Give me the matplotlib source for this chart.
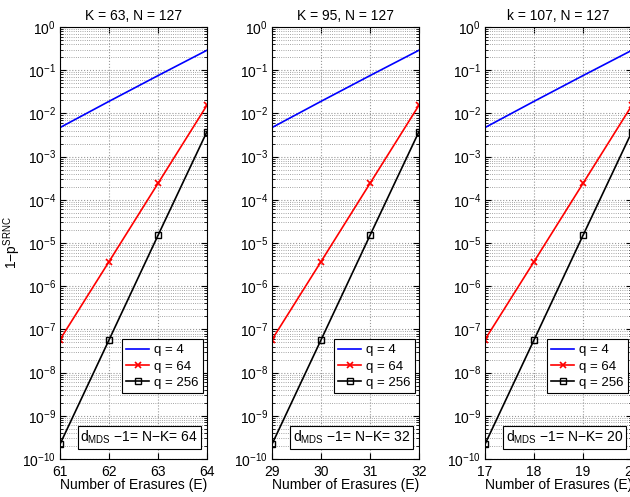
import numpy as np
import matplotlib
matplotlib.use("Agg")
import matplotlib.pyplot as plt
from matplotlib.ticker import LogLocator, NullFormatter

plt.rcParams['font.family'] = ['Liberation Sans', 'DejaVu Sans']
plt.rcParams['mathtext.fontset'] = 'custom'
plt.rcParams['mathtext.rm'] = 'Liberation Sans'
plt.rcParams['mathtext.it'] = 'Liberation Sans'

# erasures offsets relative to N-K-3
offsets = [0, 1, 2, 3]
Ks = [63, 95, 107]
N = 127
titles = ["K = 63, N = 127", "K = 95, N = 127", "k = 107, N = 127"]
q4 = [4.7e-3, 1.9e-2, 7.5e-2, 2.9e-1]
q64 = [5.8e-8, 3.7e-6, 2.4e-4, 1.55e-2]
q256 = [2.2e-10, 5.7e-8, 1.5e-5, 3.8e-3]

fig = plt.figure(figsize=(6.3, 4.97), dpi=100)
W, H = 630, 497
lefts = [60, 272, 485]
aw = 147
top, bottom = 27, 459
fs = 10

for i, K in enumerate(Ks):
    ax = fig.add_axes([lefts[i] / W, 1 - bottom / H, aw / W, (bottom - top) / H])
    d = N - K
    E = [d - 3 + o for o in offsets]
    ax.semilogy(E, q4, color='blue', lw=1.2, label='q = 4')
    ax.semilogy(E, q64, color='red', lw=1.2, marker='x', ms=5, mew=1.2, label='q = 64')
    ax.semilogy(E, q256, color='black', lw=1.2, marker='s', ms=5, mfc='none', mew=1, label='q = 256')
    ax.set_xlim(E[0], E[-1])
    ax.set_ylim(1e-10, 1)
    ax.set_xticks(E)
    ax.yaxis.set_major_locator(LogLocator(base=10, numticks=20))
    ax.yaxis.set_minor_locator(LogLocator(base=10, subs=np.arange(2, 10), numticks=20))
    ax.yaxis.set_minor_formatter(NullFormatter())
    ax.grid(True, which='major', ls=':', color='#999999', lw=0.8)
    ax.grid(True, which='minor', axis='y', ls=':', color='#888888', lw=0.6)
    ax.tick_params(direction='in', top=True, right=True, labelsize=fs, length=4, pad=3)
    ax.tick_params(axis='x', pad=4)
    ax.tick_params(which='minor', direction='in', right=True, length=2)
    ax.set_title(titles[i], fontsize=fs, pad=5)
    ax.set_xlabel('Number of Erasures (E)', fontsize=fs, labelpad=-0.5)
    if i == 0:
        ax.set_ylabel(r'1$-$p$^{\mathrm{SRNC}}$', fontsize=fs)
        ax.yaxis.set_label_coords(-0.25, 0.5)
    leg = ax.legend(loc='lower right', bbox_to_anchor=(0.975, 0.152), fontsize=9.5,
                    fancybox=False, edgecolor='black', framealpha=1,
                    handlelength=1.7, borderpad=0.35, labelspacing=0.3, handletextpad=0.4,
                    borderaxespad=0)
    leg.get_frame().set_linewidth(0.8)
    ax.text(0.94, 0.03, r'd$_{\mathrm{MDS}}$ $-$1= N$-$K= %d' % d, transform=ax.transAxes,
            ha='right', va='bottom', fontsize=fs,
            bbox=dict(boxstyle='square,pad=0.2', fc='white', ec='black', lw=0.8))
    for s in ax.spines.values():
        s.set_linewidth(0.8)

fig.savefig('out.png', dpi=100)
